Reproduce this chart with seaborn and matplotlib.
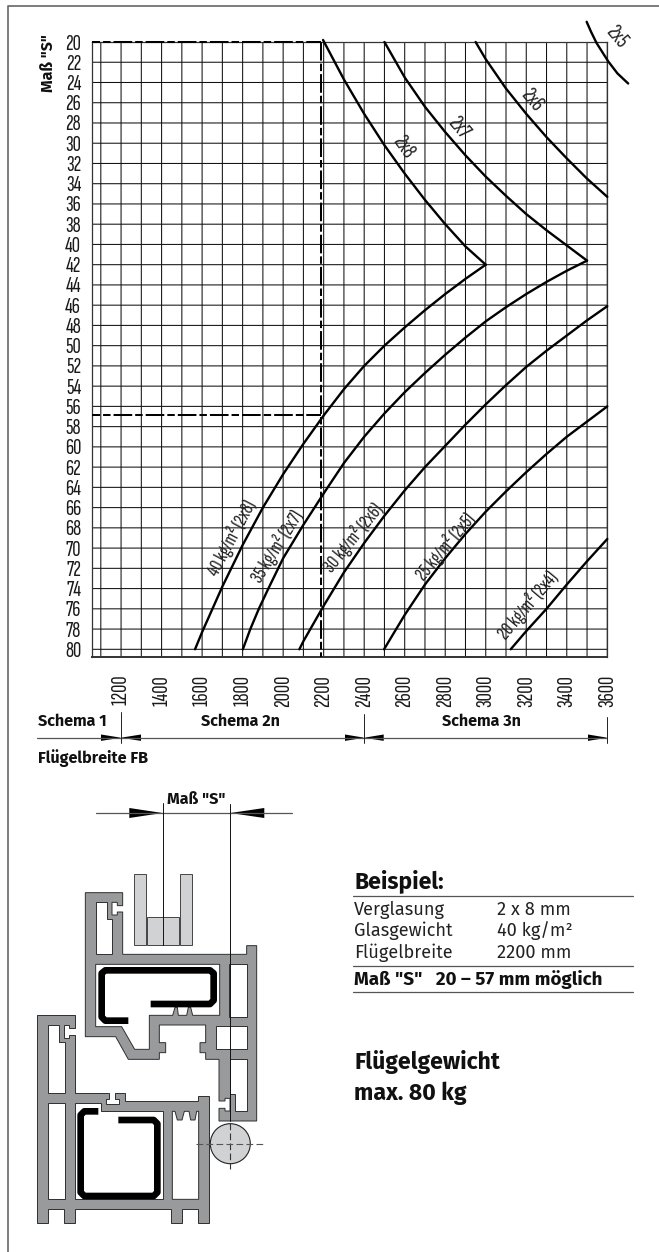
"""Flügelbreite / Maß "S" diagram with the section drawing below it."""

import pandas as pd
import seaborn as sns
import matplotlib.pyplot as plt
from matplotlib.patches import Polygon, Circle

NARROW = ["Sofia Sans Extra Condensed", "Fira Sans Extra Condensed", "Roboto Condensed", "DejaVu Sans"]
SANS = ["Fira Sans", "Open Sans", "DejaVu Sans"]

# axis ticks
x_major = [1200, 1400, 1600, 1800, 2000, 2200, 2400, 2600, 2800, 3000, 3200, 3400, 3600]
x_minor = [1100, 1300, 1500, 1700, 1900, 2100, 2300, 2500, 2700, 2900, 3100, 3300, 3500]
y_ticks = list(range(20, 82, 2))

# descending curves, glass thickness
g2x8_fb = [2197, 2300, 2400, 2500, 2600, 2700, 2800, 2900, 3000]
g2x8_s = [19.8, 23.7, 27.1, 30.2, 33.0, 35.6, 38.0, 40.2, 42.0]
g2x7_fb = [2500, 2600, 2700, 2800, 2900, 3000, 3100, 3200, 3300, 3400, 3500]
g2x7_s = [20.0, 23.5, 26.4, 28.9, 31.2, 33.3, 35.2, 37.0, 38.6, 40.1, 41.6]
g2x6_fb = [2950, 3000, 3100, 3200, 3300, 3400, 3500, 3600]
g2x6_s = [20.0, 21.7, 24.6, 27.1, 29.4, 31.5, 33.5, 35.3]
g2x5_fb = [3498, 3520, 3547, 3604, 3650, 3703]
g2x5_s = [18.0, 19.0, 20.1, 21.9, 23.1, 24.1]

# rising curves, glass weight
kg40_fb = [3000, 2900, 2800, 2700, 2600, 2500, 2400, 2300, 2200, 2100, 2000, 1900, 1800, 1700, 1600, 1565]
kg40_s = [42.0, 43.4, 44.9, 46.5, 48.2, 50.0, 52.0, 54.3, 56.9, 59.7, 62.7, 66.0, 69.7, 73.8, 78.3, 80.0]
kg35_fb = [3500, 3400, 3300, 3200, 3100, 3000, 2900, 2800, 2700, 2600, 2500, 2400, 2300, 2200, 2100, 2000, 1927, 1880, 1838, 1801]
kg35_s = [41.6, 42.6, 43.7, 44.9, 46.2, 47.6, 49.2, 50.9, 52.7, 54.6, 56.7, 59.0, 61.6, 64.6, 67.7, 71.0, 74.0, 76.0, 78.0, 80.0]
kg30_fb = [3600, 3500, 3400, 3300, 3200, 3100, 3000, 2900, 2800, 2700, 2600, 2500, 2400, 2300, 2200, 2100, 2080]
kg30_s = [46.1, 47.5, 49.0, 50.5, 52.1, 53.9, 55.8, 57.8, 59.9, 62.0, 64.3, 66.8, 69.5, 72.4, 75.7, 79.2, 80.0]
kg25_fb = [3600, 3500, 3400, 3300, 3200, 3100, 3000, 2900, 2800, 2700, 2600, 2498]
kg25_s = [56.0, 57.5, 59.0, 60.7, 62.5, 64.4, 66.4, 68.6, 71.0, 73.6, 76.6, 80.0]
kg20_fb = [3600, 3500, 3400, 3300, 3200, 3123]
kg20_s = [69.1, 71.3, 73.6, 76.0, 78.2, 80.0]

# example reading
example_fb = 2185
example_s = 56.9

curves = [(g2x8_fb, g2x8_s), (g2x7_fb, g2x7_s), (g2x6_fb, g2x6_s), (g2x5_fb, g2x5_s),
          (kg40_fb, kg40_s), (kg35_fb, kg35_s), (kg30_fb, kg30_s), (kg25_fb, kg25_s), (kg20_fb, kg20_s)]

# label, centre in page pixels, rotation, size
curve_labels = [
    ("2x8", 403, 147, -55, 16.5), ("2x7", 458, 128, -50, 16.5), ("2x6", 532, 100, -50, 16.5),
    ("2x5", 616, 37, -50, 16.5),
    ("40 kg/m² (2x8)", 231.7, 538, 62, 15), ("35 kg/m² (2x7)", 276.7, 546.7, 58, 15),
    ("30 kg/m² (2x6)", 353, 538, 51, 15), ("25 kg/m² (2x5)", 445, 546.7, 50, 15),
    ("20 kg/m² (2x4)", 528, 605, 50, 15),
]

sash_outer = [(256, -322), (368, -322), (368, -283), (352, -283), (352, -293), (336, -293), (336, -255),
              (352, -255), (352, -264), (368, -264), (368, -137), (740, -137), (740, -163), (770, -163),
              (770, 363), (657, 363), (657, 325), (675, 325), (675, 333), (690, 333), (690, 295), (675, 295),
              (675, 303), (657, 303), (657, 178), (617, 178), (617, 158), (600, 158), (600, 128), (617, 128),
              (617, 75), (478, 75), (478, 128), (497, 128), (497, 158), (478, 158), (478, 178), (385, 178),
              (347, 110), (256, 110)]
sash_holes = [
    [(287, -293), (320, -293), (320, -243), (337, -243), (337, -137), (287, -137)],
    [(287, -107), (659, -107), (659, 46), (578, 46), (572, 22), (565, 22), (560, 46), (535, 46), (532, 22),
     (525, 22), (518, 46), (448, 46), (448, 148), (404, 148), (365, 80), (287, 80)],
    [(687, -107), (740, -107), (740, 50), (687, 50)],
    [(647, 77), (740, 77), (740, 148), (647, 148)],
    [(690, 178), (740, 178), (740, 333), (705, 333), (705, 283), (690, 283)],
]
frame_outer = [(112, 46), (225, 46), (225, 85), (208, 85), (208, 75), (192, 75), (192, 115), (208, 115),
               (208, 105), (225, 105), (225, 278), (327, 278), (327, 296), (317, 296), (317, 313), (357, 313),
               (357, 296), (344, 296), (344, 278), (374, 278), (374, 304), (595, 304), (595, 287), (626, 287),
               (626, 670), (595, 670), (595, 628), (545, 628), (545, 670), (514, 670), (514, 628), (225, 628),
               (225, 670), (193, 670), (193, 628), (143, 628), (143, 670), (112, 670)]
frame_holes = [
    [(143, 75), (178, 75), (178, 127), (194, 127), (194, 280), (143, 280)],
    [(143, 310), (194, 310), (194, 598), (143, 598)],
    [(224, 310), (303, 310), (303, 334), (488, 334), (488, 598), (224, 598)],
    [(517, 334), (525, 334), (532, 360), (546, 360), (553, 334), (567, 334), (572, 360), (585, 360),
     (590, 334), (596, 334), (596, 598), (517, 598)],
]
steel_upper = [(385, 62), (316, 62), (305, 51), (305, -80), (316, -89), (630, -89), (641, -80), (641, 1),
               (630, 12), (452, 12)]
steel_lower = [(295, 334), (253, 334), (242, 345), (242, 577), (253, 588), (461, 588), (472, 577), (472, 371),
               (461, 360), (355, 360)]


def px(points):
    return [(x / 3, 1000 + y / 3) for x, y in points]


def arrow(ax, tip, base, y, half):
    ax.add_patch(Polygon([(tip, y), (base, y - half), (base, y + half)], fc="black", ec="none"))


sns.set_theme(style="white")
plt.rcParams["font.family"] = NARROW

fig = plt.figure(figsize=(6.59, 12.52), dpi=100)
ax = fig.add_axes([92.3 / 659, 1 - 656.7 / 1252, 515 / 659, 614.7 / 1252])

for fb, s in curves:
    sns.lineplot(x=pd.Series(fb), y=pd.Series(s), ax=ax, color="black", linewidth=1.7,
                 sort=False, estimator=None, clip_on=False, zorder=4)

ax.set_xlim(1058, 3600)
ax.set_ylim(80.73, 20)
ax.set_xticks(x_major)
ax.set_xticks(x_minor, minor=True)
ax.set_yticks(y_ticks)
ax.set_xlabel("")
ax.set_ylabel("")
ax.grid(True, which="both", color="#111111", linewidth=0.75)
ax.set_axisbelow(True)
for line in ax.get_xgridlines() + ax.get_ygridlines():
    line.set_snap(False)
for tick in ax.xaxis.get_minor_ticks():
    tick.gridline.set_snap(False)
ax.tick_params(axis="both", which="both", length=0, labelsize=16.5, labelcolor="#1a1a1a")
ax.tick_params(axis="y", pad=8)
ax.tick_params(axis="x", pad=13, labelrotation=90)
for spine in ax.spines.values():
    spine.set_color("#333333")
    spine.set_linewidth(0.9)
ax.spines["bottom"].set_linewidth(1.4)

dash_h = (5.25, (9.25, 1.5, 3.7, 1.5))
dash_v = (0, (9.25, 1.5, 3.7, 1.5))
ax.plot([1058, example_fb], [20, 20], color="black", lw=1.45, ls=dash_h, clip_on=False, zorder=5)
ax.plot([1058, example_fb], [example_s, example_s], color="black", lw=1.45, ls=dash_h, zorder=5)
ax.plot([example_fb, example_fb], [20, 80.8], color="black", lw=1.45, ls=dash_v, clip_on=False, zorder=5)

# overlay in page pixels for everything around the diagram
page = fig.add_axes([0, 0, 1, 1], facecolor="none", zorder=6)
page.set_xlim(0, 659)
page.set_ylim(1252, 0)
page.axis("off")

page.plot([659, 7.7, 7.7], [6, 6, 1252], color="#666666", lw=1.2)

for label, cx, cy, rot, size in curve_labels:
    page.text(cx, cy, label, rotation=rot, ha="center", va="center", fontsize=size,
              color="#222222", rotation_mode="anchor")

page.text(48, 63, 'Maß "S"', rotation=90, ha="center", va="center", fontsize=11.5,
          fontweight="bold", family=SANS, color="#111111")

# Schema row
page.plot([37, 607.3], [737.7, 737.7], color="#555555", lw=0.9)
for xp, top in [(121, 711.7), (364.3, 714), (607.3, 717)]:
    page.plot([xp, xp], [top, 743], color="#222222", lw=0.7)
for tip, base in [(121, 101), (121, 141), (364.3, 345), (364.3, 383.7), (607.3, 588)]:
    arrow(page, tip, base, 737.7, 3.2)
page.text(38, 725.7, "Schema 1", fontsize=11.6, fontweight="bold", family=SANS, color="#111111")
page.text(240, 725.7, "Schema 2n", fontsize=11.6, fontweight="bold", family=SANS, ha="center", color="#111111")
page.text(481.7, 725.7, "Schema 3n", fontsize=11.6, fontweight="bold", family=SANS, ha="center", color="#111111")
page.text(38, 763, "Flügelbreite FB", fontsize=11.6, fontweight="bold", family=SANS, color="#111111")

# section drawing
page.text(196, 799, 'Maß "S"', fontsize=11.6, fontweight="bold", family=SANS, ha="center", va="center", color="#111111")
page.plot([96, 291.7], [813, 813], color="#555555", lw=0.9)
arrow(page, 162.5, 129.3, 813, 5)
arrow(page, 230.3, 264.3, 813, 5)

grey = "#999a9c"
edge = "#2f2f2f"
light = "#d0d2d3"
for outer, holes in [(sash_outer, sash_holes), (frame_outer, frame_holes)]:
    page.add_patch(Polygon(px(outer), fc=grey, ec=edge, lw=0.7, joinstyle="miter"))
    for hole in holes:
        page.add_patch(Polygon(px(hole), fc="white", ec=edge, lw=0.7, joinstyle="miter"))
for steel in (steel_upper, steel_lower):
    xs, ys = zip(*px(steel))
    page.plot(xs, ys, color="black", lw=4.8, solid_capstyle="butt", solid_joinstyle="round")

for x0, y0, x1, y1 in [(134, 874.3, 146, 945), (180, 874.3, 192, 945), (147, 916.7, 179, 945)]:
    page.add_patch(Polygon([(x0, y0), (x1, y0), (x1, y1), (x0, y1)], fc=light, ec="#444444", lw=0.7))

page.add_patch(Circle((230.3, 1143.7), 20, fc=light, ec="#222222", lw=0.8))
page.plot([162.5, 162.5], [803, 945], color="#111111", lw=0.7)
page.plot([230.3, 230.3], [804, 1121], color="#111111", lw=0.7)
page.plot([230.3, 230.3], [1123, 1169.3], color="#333333", lw=0.8, ls=(0, (6, 3)))
page.plot([195.7, 265], [1143.7, 1143.7], color="#555555", lw=0.8, ls=(0, (6, 3)))

# example box
page.text(354, 888.3, "Beispiel:", fontsize=16.5, fontweight="bold", family=SANS, color="#111111")
page.plot([353, 632.7], [895.7, 895.7], color="#555555", lw=0.9)
rows = [("Verglasung", "2 x 8 mm", 915), ("Glasgewicht", "40 kg/m²", 936.5), ("Flügelbreite", "2200 mm", 958.3)]
for left, right, base in rows:
    page.text(354, base, left, fontsize=13.1, family=SANS, color="#222222")
    page.text(496.7, base, right, fontsize=13.1, family=SANS, color="#222222")
page.plot([353, 632.7], [966, 966], color="#555555", lw=0.9)
page.text(353.7, 985, 'Maß "S"   20 – 57 mm möglich', fontsize=13.5, fontweight="bold", family=SANS, color="#111111")
page.plot([353, 632.7], [991.7, 991.7], color="#555555", lw=0.9)
page.text(354, 1069, "Flügelgewicht", fontsize=16.6, fontweight="bold", family=SANS, color="#111111")
page.text(354, 1100, "max. 80 kg", fontsize=16.6, fontweight="bold", family=SANS, color="#111111")

fig.savefig("out.png", dpi=100)
plt.close()
